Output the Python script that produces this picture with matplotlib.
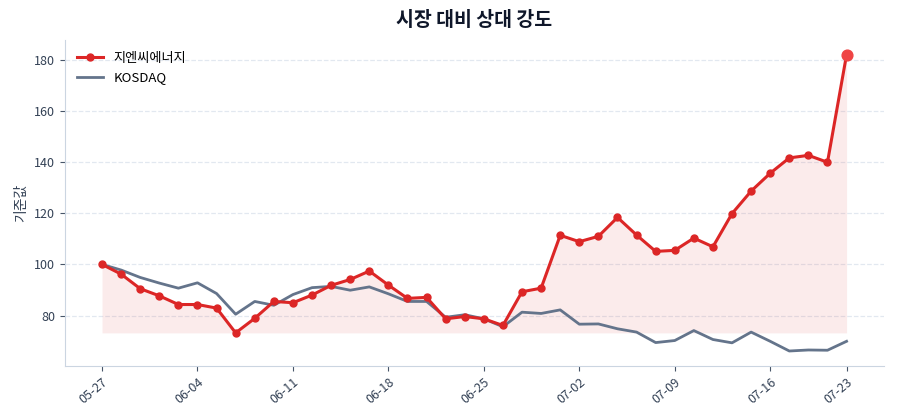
import matplotlib
matplotlib.use("Agg")
import matplotlib.pyplot as plt
import numpy as np

plt.rcParams['font.family'] = ['Noto Sans CJK KR', 'DejaVu Sans']

# x axis is index based (trading days), labelled every 5th day plus the last one
tick_idx = [0, 5, 10, 15, 20, 25, 30, 35, 39]
tick_labels = ['05-27', '06-04', '06-11', '06-18', '06-25', '07-02', '07-09', '07-16', '07-23']

stock = [100.0, 96.2, 90.5, 87.7, 84.3, 84.3, 82.9, 73.2, 78.9, 85.5,
         85.0, 88.0, 91.8, 94.1, 97.4, 91.9, 86.7, 87.1, 78.7, 79.6,
         78.7, 76.1, 89.3, 90.7, 111.4, 108.9, 111.0, 118.4, 111.5, 105.1,
         105.5, 110.3, 106.9, 119.9, 128.7, 135.7, 141.7, 142.7, 140.0, 182.1]
kosdaq = [100.0, 97.8, 94.9, 92.7, 90.7, 92.8, 88.6, 80.5, 85.5, 84.0,
          88.2, 90.9, 91.4, 89.9, 91.2, 88.5, 85.5, 85.5, 79.3, 80.3,
          78.7, 75.6, 81.3, 80.8, 82.2, 76.6, 76.7, 74.8, 73.5, 69.4,
          70.2, 74.1, 70.6, 69.3, 73.5, 69.9, 66.1, 66.5, 66.4, 69.9]

red = '#dc2626'
slate = '#64748b'

x = np.arange(len(stock))
fig = plt.figure(figsize=(9, 4.2), dpi=100)
ax = fig.add_axes([0.072, 0.129, 0.910, 0.776])

ax.fill_between(x, stock, min(stock), color=red, alpha=0.09, linewidth=0)
ax.plot(x, stock, color=red, lw=2.2, marker='o', ms=5, label='지엔씨에너지', zorder=3)
ax.plot(x, kosdaq, color=slate, lw=2, label='KOSDAQ', zorder=2)
# highlight latest value
ax.scatter([x[-1]], [stock[-1]], s=60, color='#ef4444', zorder=4)

ax.set_xticks(tick_idx)
ax.set_xticklabels(tick_labels, rotation=40, ha='right', rotation_mode='anchor')
ax.tick_params(colors='#475569', labelsize=9)
ax.tick_params(axis='both', labelcolor='#334155')

ax.grid(axis='y', linestyle='--', color='#e2e8f0', lw=0.9)
ax.set_axisbelow(True)
for s in ['top', 'right']:
    ax.spines[s].set_visible(False)
for s in ['left', 'bottom']:
    ax.spines[s].set_color('#cbd5e1')

ax.set_ylabel('기준값', fontsize=10, color='#334155')
ax.set_title('시장 대비 상대 강도', fontsize=14, fontweight='bold', color='#0f172a', pad=10)
ax.legend(loc='upper left', frameon=False, fontsize=9.5)

fig.savefig('out.png', dpi=100)
